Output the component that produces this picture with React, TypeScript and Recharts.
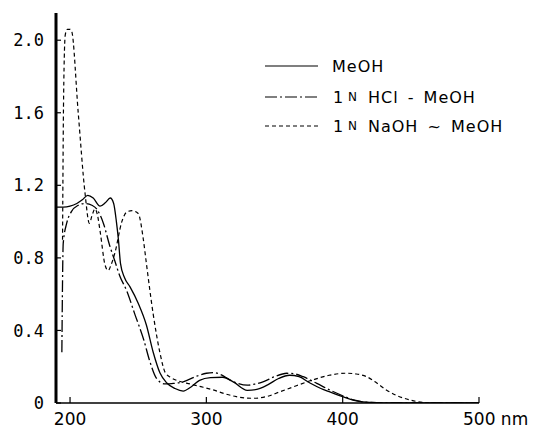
import { LineChart, Line, XAxis, YAxis, Legend } from 'recharts';

// UV spectra, wavelength (nm) vs absorbance
const meohNm = [190, 195, 200, 205, 209, 213, 217, 222, 226, 229.5, 232, 234, 235.5, 237, 240, 244, 250, 256, 261, 266, 271, 277, 283, 289, 295, 303, 312, 320, 330, 337, 345, 353, 361, 368, 376, 384, 391, 400, 410, 420, 440, 500];
const meohAbs = [1.08, 1.08, 1.085, 1.1, 1.12, 1.145, 1.13, 1.085, 1.105, 1.13, 1.1, 1.0, 0.9, 0.77, 0.69, 0.64, 0.55, 0.43, 0.28, 0.165, 0.11, 0.08, 0.066, 0.09, 0.125, 0.14, 0.142, 0.115, 0.07, 0.075, 0.1, 0.135, 0.153, 0.145, 0.11, 0.08, 0.06, 0.035, 0.012, 0.003, 0, 0];

const hclNm = [194, 195, 197.5, 201, 206, 211, 216, 219.5, 224.5, 229, 233, 236.5, 241.5, 247.5, 254, 258.5, 263.5, 269.5, 276, 283, 293, 300, 305, 311, 317, 323, 330, 336, 342, 350, 359, 365, 371, 381, 391, 400, 408, 420, 440, 500];
const hclAbs = [0.28, 0.88, 0.99, 1.055, 1.09, 1.1, 1.09, 1.07, 0.99, 0.87, 0.78, 0.7, 0.62, 0.49, 0.35, 0.23, 0.135, 0.105, 0.108, 0.117, 0.148, 0.164, 0.168, 0.155, 0.128, 0.108, 0.098, 0.105, 0.118, 0.145, 0.164, 0.16, 0.145, 0.108, 0.07, 0.04, 0.017, 0.003, 0, 0];

const naohNm = [194.5, 195.3, 196.5, 198, 200, 201.2, 206, 211, 214.2, 216, 218.3, 220, 222, 225.7, 228, 230, 233, 238, 242, 245.5, 250, 253.8, 256, 261, 266, 269.7, 274, 280, 288, 296, 305, 314, 322, 334, 344, 354, 366, 378, 390, 403, 410, 417.6, 425, 432, 440, 449.4, 460, 470, 500];
const naohAbs = [0.9, 1.7, 2.03, 2.06, 2.06, 2.05, 1.6, 1.156, 0.99, 1.03, 1.07, 1.04, 0.95, 0.76, 0.73, 0.76, 0.83, 1.0, 1.055, 1.06, 1.045, 0.9, 0.77, 0.49, 0.275, 0.17, 0.14, 0.12, 0.105, 0.09, 0.072, 0.05, 0.035, 0.026, 0.035, 0.062, 0.095, 0.127, 0.153, 0.164, 0.16, 0.145, 0.11, 0.072, 0.04, 0.017, 0.002, 0, 0];

const xTicks = [200, 300, 400, 500];
const yTicks = [0, 0.4, 0.8, 1.2, 1.6, 2.0];

const seriesNames = ['MeOH', '1 N HCl - MeOH', '1 N NaOH ~ MeOH'];

const zip = (nm: number[], abs: number[]) => nm.map((x, i) => ({ nm: x, abs: abs[i] }));

const meohData = zip(meohNm, meohAbs);
const hclData = zip(hclNm, hclAbs);
const naohData = zip(naohNm, naohAbs);

// eslint-disable-next-line @typescript-eslint/no-explicit-any
function XTick(props: any) {
  const { x, y, payload } = props;
  const v = payload.value;
  return (
    <g>
      <line x1={x} x2={x} y1={y} y2={y - 6} stroke="#000" strokeWidth={1.2} />
      {v === 500 ? (
        <text x={x - 16} y={y + 22} textAnchor="start" fontSize={17} fontFamily="DejaVu Sans" fill="#000">
          500 nm
        </text>
      ) : (
        <text x={x} y={y + 22} textAnchor="middle" fontSize={17} fontFamily="DejaVu Sans" fill="#000">
          {v}
        </text>
      )}
    </g>
  );
}

// eslint-disable-next-line @typescript-eslint/no-explicit-any
function YTick(props: any) {
  const { x, y, payload } = props;
  const v = payload.value;
  return (
    <g>
      <line x1={x} x2={x + 5} y1={y} y2={y} stroke="#000" strokeWidth={1.2} />
      <text x={x - 12} y={y} dy="0.36em" textAnchor="end" fontSize={17} fontFamily="DejaVu Sans Mono" fill="#000">
        {v === 0 ? '0' : v.toFixed(1)}
      </text>
    </g>
  );
}

const rowY = [66, 97, 126];

// eslint-disable-next-line @typescript-eslint/no-explicit-any
function LegendBox(props: any) {
  const { payload } = props;
  if (!payload) return null;
  const font = { fontFamily: 'DejaVu Sans', fontSize: 16, fill: '#000' };
  // keep the order of the series names
  // eslint-disable-next-line @typescript-eslint/no-explicit-any
  const items = [...payload].sort((a: any, b: any) => seriesNames.indexOf(a.value) - seriesNames.indexOf(b.value));
  return (
    <svg width={533} height={140} style={{ display: 'block' }}>
      {/* eslint-disable-next-line @typescript-eslint/no-explicit-any */}
      {items.map((p: any, i: number) => {
        const y = rowY[i];
        const name: string = p.value;
        const dash = p.payload?.strokeDasharray;
        const parts = name.split(' ');
        return (
          <g key={name}>
            <line x1={265} x2={318} y1={y} y2={y} stroke="#000" strokeWidth={1.2} strokeDasharray={dash} />
            {parts[0] === '1' ? (
              <>
                <text x={333} y={y} dy="0.36em" {...font}>1</text>
                <text x={348} y={y} dy="0.36em" {...font} fontSize={12}>N</text>
                <text x={368} y={y} dy="0.36em" {...font} letterSpacing={1} wordSpacing={3}>
                  {parts.slice(2).join(' ')}
                </text>
              </>
            ) : (
              <text x={332} y={y} dy="0.36em" {...font} letterSpacing={1}>{name}</text>
            )}
          </g>
        );
      })}
    </svg>
  );
}

export default function App() {
  return (
    <div style={{ position: 'absolute', left: 0, top: 0, background: '#fff' }}>
      <LineChart width={533} height={430} margin={{ top: 13, right: 54, bottom: 0, left: 0 }}>
        <XAxis
          dataKey="nm"
          type="number"
          domain={[189.7, 500]}
          allowDataOverflow
          ticks={xTicks}
          height={27}
          tickSize={0}
          tickMargin={0}
          tickLine={false}
          tick={<XTick />}
          axisLine={{ stroke: '#000', strokeWidth: 1.5 }}
        />
        <YAxis
          type="number"
          domain={[0, 2.15]}
          allowDataOverflow
          ticks={yTicks}
          width={56}
          tickSize={0}
          tickMargin={0}
          tickLine={false}
          tick={<YTick />}
          axisLine={{ stroke: '#000', strokeWidth: 3 }}
        />
        <Legend
          content={<LegendBox />}
          layout="vertical"
          align="center"
          verticalAlign="middle"
          wrapperStyle={{ left: 0, top: 0, width: 533, height: 140 }}
        />
        <Line
          data={meohData}
          dataKey="abs"
          name={seriesNames[0]}
          type="monotone"
          stroke="#000"
          strokeWidth={1.3}
          dot={false}
          isAnimationActive={false}
        />
        <Line
          data={hclData}
          dataKey="abs"
          name={seriesNames[1]}
          type="monotone"
          stroke="#000"
          strokeWidth={1.3}
          strokeDasharray="12 3 2 3"
          dot={false}
          isAnimationActive={false}
        />
        <Line
          data={naohData}
          dataKey="abs"
          name={seriesNames[2]}
          type="monotone"
          stroke="#000"
          strokeWidth={1.2}
          strokeDasharray="4 3"
          dot={false}
          isAnimationActive={false}
        />
      </LineChart>
    </div>
  );
}
